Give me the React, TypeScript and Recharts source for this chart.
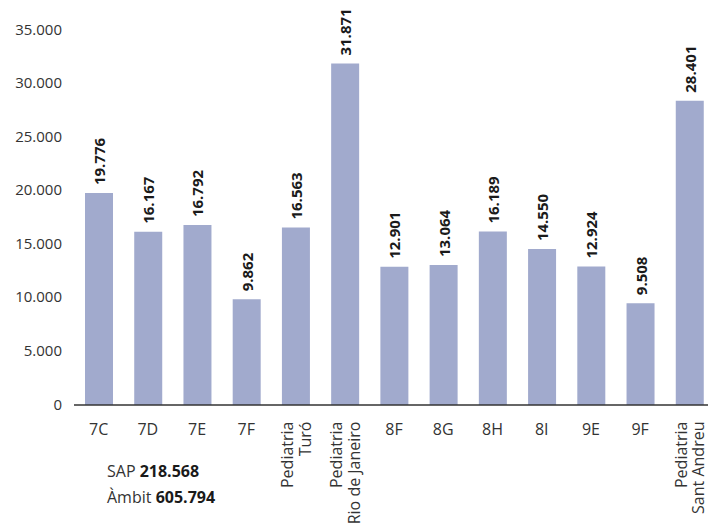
import React from 'react';
import { BarChart, Bar, XAxis, YAxis, LabelList } from 'recharts';

const categories = [
  '7C', '7D', '7E', '7F', 'Pediatria\nTuró', 'Pediatria\nRio de Janeiro',
  '8F', '8G', '8H', '8I', '9E', '9F', 'Pediatria\nSant Andreu',
];
const visits = [19776, 16167, 16792, 9862, 16563, 31871, 12901, 13064, 16189, 14550, 12924, 9508, 28401];
const yTicks = [0, 5000, 10000, 15000, 20000, 25000, 30000, 35000];
const summaryLabels = ['SAP', 'Àmbit'];
const summaryValues = [218568, 605794];

const data = categories.map((c, i) => ({ name: c, value: visits[i] }));

const FONT = "'Open Sans', sans-serif";
const fmt = (n: number) => String(n).replace(/\B(?=(\d{3})+(?!\d))/g, '.');

const XTick = (props: any) => {
  const { x, y, payload } = props;
  const lines = String(payload.value).split('\n');
  if (lines.length === 1) {
    return (
      <text x={x} y={y + 29.5} textAnchor="middle" fontSize={16} fill="#333" fontFamily={FONT}>
        {lines[0]}
      </text>
    );
  }
  return (
    <g>
      {lines.map((l, i) => {
        const tx = x - 2.5 + i * 17.5;
        const ty = y + 16.5;
        return (
          <text key={i} x={tx} y={ty} transform={`rotate(-90, ${tx}, ${ty})`} textAnchor="end"
            fontSize={16} fill="#333" fontFamily={FONT}>
            {l}
          </text>
        );
      })}
    </g>
  );
};

const YTick = (props: any) => {
  const { x, y, payload } = props;
  return (
    <text x={x} y={y + 4.5} textAnchor="end" fontSize={15} fill="#333" fontFamily={FONT}>
      {fmt(payload.value)}
    </text>
  );
};

const ValueLabel = (props: any) => {
  const { x, y, width, value } = props;
  const cx = Number(x) + Number(width) / 2;
  const cy = Number(y) - 8;
  return (
    <text x={cx} y={cy} transform={`rotate(-90, ${cx}, ${cy})`} textAnchor="start" dominantBaseline="central"
      fontSize={15} fontWeight="bold" fill="#1a1a1a" fontFamily={FONT}>
      {fmt(Number(value))}
    </text>
  );
};

export default function App() {
  return (
    <div style={{ position: 'absolute', left: 0, top: 0, width: 708, height: 525, overflow: 'hidden', background: '#fff' }}>
      <BarChart width={714} height={525} data={data} margin={{ top: 30, right: 0, bottom: 0, left: 0 }}>
        <XAxis dataKey="name" interval={0} height={120} tickLine={false} tickSize={0} tickMargin={0}
          axisLine={{ stroke: '#333', strokeWidth: 1.5 }} tick={<XTick />} />
        <YAxis width={74} domain={[0, 35000]} ticks={yTicks} axisLine={false} tickLine={false}
          tickSize={0} tickMargin={12} tick={<YTick />} />
        <Bar dataKey="value" fill="#A1AACD" barSize={28} isAnimationActive={false}>
          <LabelList dataKey="value" content={<ValueLabel />} />
        </Bar>
      </BarChart>
      <svg width={708} height={525} style={{ position: 'absolute', left: 0, top: 0, pointerEvents: 'none' }}>
        {summaryLabels.map((l, i) => (
          <text key={l} x={107} y={477 + i * 25.5} fontSize={16} fill="#333" fontFamily={FONT}>
            {l + ' '}
            <tspan fontWeight="bold" fill="#1a1a1a">{fmt(summaryValues[i])}</tspan>
          </text>
        ))}
      </svg>
    </div>
  );
}
